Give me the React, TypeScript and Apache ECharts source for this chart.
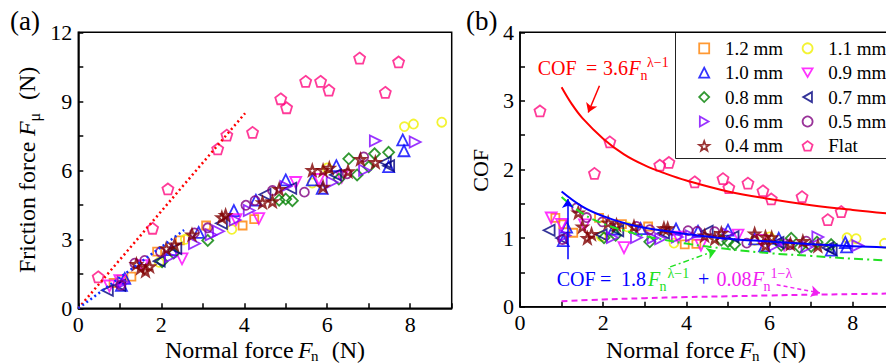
import React, { useEffect, useRef } from 'react';
import * as echarts from 'echarts';

const FONT = 'Liberation Serif';

// ---- Panel (a) data: [normal force Fn (N), friction force Fμ (N)] ----
const d12: number[][] = [[0.85, 1.1], [1.04, 1.25], [1.28, 1.38], [1.9, 2.46], [2.45, 2.95], [3.08, 3.6], [3.96, 3.6], [4.24, 3.88]];
const d11: number[][] = [[1.95, 2.0], [2.58, 3.0], [3.7, 3.43], [5.64, 5.45], [6.0, 6.1], [7.86, 7.9], [8.08, 8.01], [8.76, 8.09]];
const d10: number[][] = [[1.04, 1.0], [1.12, 1.3], [2.25, 2.55], [2.9, 3.3], [3.75, 4.25], [4.28, 4.7], [5.0, 5.58], [5.64, 5.58], [5.88, 5.22], [6.22, 6.2], [7.48, 6.16], [7.82, 7.32], [7.85, 6.85]];
const d09: number[][] = [[0.75, 0.97], [1.0, 1.2], [1.55, 1.85], [2.5, 2.15], [3.8, 3.85], [4.35, 3.9], [5.24, 5.47], [5.8, 5.6], [6.35, 5.7]];
const d08: number[][] = [[2.02, 2.03], [2.3, 2.4], [3.12, 2.95], [4.84, 4.7], [5.0, 4.75], [5.16, 4.68], [6.28, 5.62], [6.52, 6.5], [6.72, 5.8], [7.0, 6.15], [7.14, 6.72], [7.48, 6.78]];
const d07: number[][] = [[0.7, 0.78], [1.0, 1.0], [1.95, 2.05], [2.35, 2.6], [3.45, 3.7], [4.5, 4.95], [5.12, 5.22], [6.2, 5.8], [7.4, 6.35], [7.48, 6.2]];
const d06: number[][] = [[1.08, 1.12], [2.22, 2.24], [2.8, 2.82], [3.2, 3.2], [3.38, 3.35], [3.78, 3.84], [4.12, 4.25], [5.0, 5.3], [6.12, 5.48], [6.9, 6.0], [7.16, 7.28], [8.12, 7.23]];
const d05: number[][] = [[1.02, 1.0], [1.36, 1.96], [1.6, 2.08], [1.98, 2.45], [2.8, 3.28], [3.12, 3.5], [4.04, 4.48], [4.26, 4.68], [4.68, 5.12], [5.45, 5.05], [6.48, 5.85], [6.88, 6.58]];
const d04: number[][] = [[1.4, 1.92], [1.5, 1.75], [1.62, 1.62], [1.72, 1.82], [2.12, 2.6], [2.32, 2.76], [2.74, 3.2], [3.46, 3.95], [3.55, 4.05], [4.44, 4.6], [4.68, 4.64], [4.84, 5.18], [5.64, 6.0], [5.9, 6.0], [5.9, 5.28], [6.05, 6.1], [6.5, 5.95], [6.8, 6.48], [7.16, 6.35]];
const dFlat: number[][] = [[0.48, 1.37], [1.79, 3.48], [2.16, 5.19], [3.36, 6.93], [3.58, 7.53], [4.2, 7.65], [4.88, 9.11], [5.02, 8.72], [5.48, 9.87], [5.84, 9.87], [6.04, 9.49], [6.78, 10.88], [7.4, 9.39], [7.72, 10.71]];

// Dotted guide lines in (a)
const redGuide: number[][] = [[0, 0], [4.02, 8.48]];
const blueGuide: number[][] = [[0, 0], [2.55, 3.4]];

// ---- Panel (b) fitted curves: [Fn, COF] ----
const redFit: number[][] = [[1.0, 3.2], [1.25, 2.95], [1.5, 2.75], [2, 2.45], [2.5, 2.22], [3, 2.06], [3.5, 1.94], [4, 1.84], [5, 1.68], [6, 1.57], [7, 1.48], [8, 1.41], [9, 1.35]];
const greenFit: number[][] = [[1, 1.6], [1.5, 1.36], [2, 1.21], [2.5, 1.11], [3, 1.03], [4, 0.92], [5, 0.84], [6, 0.78], [7, 0.74], [8, 0.7], [9, 0.67]];
const magentaFit: number[][] = [[1, 0.08], [2, 0.105], [3, 0.124], [4, 0.14], [5, 0.152], [6, 0.164], [7, 0.175], [8, 0.184], [9, 0.193]];
const blueFit: number[][] = [[1, 1.68], [1.5, 1.46], [2, 1.32], [2.5, 1.22], [3, 1.15], [4, 1.06], [5, 0.99], [6, 0.95], [7, 0.91], [8, 0.88], [9, 0.86]];

// Annotation arrows in (b): [from, to] in data coordinates
const redArrow: number[][] = [[1.91, 3.22], [1.64, 2.83]];
const blueArrow: number[][] = [[1.15, 0.69], [1.15, 1.57]];
const greenArrow: number[][] = [[3.61, 0.58], [4.71, 0.82]];
const magentaArrow: number[][] = [[6.17, 0.32], [7.21, 0.2]];

const xTicksA = [0, 2, 4, 6, 8];
const legendCol1 = ['1.2 mm', '1.0 mm', '0.8 mm', '0.6 mm', '0.4 mm'];
const legendCol2 = ['1.1 mm', '0.9 mm', '0.7 mm', '0.5 mm', 'Flat'];

const STAR = 'path://M0,-1L0.235,-0.324L0.951,-0.309L0.380,0.124L0.588,0.809L0,0.4L-0.588,0.809L-0.380,0.124L-0.951,-0.309L-0.235,-0.324Z';
const PENT = 'path://M0,-1L0.951,-0.309L0.588,0.809L-0.588,0.809L-0.951,-0.309Z';
const TRI_DOWN = 'path://M-1,-0.87L1,-0.87L0,0.87Z';
const TRI_LEFT = 'path://M-0.87,0L0.87,-1L0.87,1Z';
const TRI_RIGHT = 'path://M0.87,0L-0.87,-1L-0.87,1Z';

const groups = [
  { name: '1.2 mm', data: d12, color: '#FF8000', symbol: 'rect', size: 8, bw: 1.8 },
  { name: '1.1 mm', data: d11, color: '#F0F000', symbol: 'circle', size: 9, bw: 1.8 },
  { name: '1.0 mm', data: d10, color: '#0000FF', symbol: 'triangle', size: 11, bw: 1.8 },
  { name: '0.9 mm', data: d09, color: '#FF00FF', symbol: TRI_DOWN, size: 11, bw: 1.8 },
  { name: '0.8 mm', data: d08, color: '#008000', symbol: 'diamond', size: 11, bw: 1.8 },
  { name: '0.7 mm', data: d07, color: '#000080', symbol: TRI_LEFT, size: 11, bw: 1.8 },
  { name: '0.6 mm', data: d06, color: '#8000FF', symbol: TRI_RIGHT, size: 11, bw: 1.8 },
  { name: '0.5 mm', data: d05, color: '#800080', symbol: 'circle', size: 9, bw: 1.8 },
  { name: '0.4 mm', data: d04, color: '#800000', symbol: STAR, size: 10, bw: 2.2 },
  { name: 'Flat', data: dFlat, color: '#FF0A80', symbol: PENT, size: 11, bw: 1.8 },
];

function txt(text: string, x: number, base: number, size: number, color: string, italic = false) {
  return {
    type: 'text', x, y: base - 0.3375 * size, silent: true,
    style: {
      text, fill: color, fontSize: size, fontFamily: FONT, fontStyle: italic ? 'italic' : 'normal',
      align: 'left', verticalAlign: 'middle', textAlign: 'left', textVerticalAlign: 'middle',
    },
  };
}

function arrowLine(pts: number[][], color: string, type: any) {
  return {
    silent: true, symbol: ['none', 'arrow'], symbolSize: 9, label: { show: false },
    lineStyle: { color, width: 1.5, type },
    emphasis: { disabled: true },
    data: [[{ coord: pts[0] }, { coord: pts[1] }]],
  };
}

export default function App() {
  const ref = useRef<HTMLDivElement>(null);
  useEffect(() => {
    if (!ref.current) return;
    const chart = echarts.init(ref.current, undefined, { renderer: 'svg' });

    const axisCommon = {
      type: 'value',
      axisLine: { show: true, lineStyle: { color: '#000', width: 1.5 } },
      axisTick: { show: true, inside: true, length: 5, lineStyle: { color: '#000', width: 1.5 } },
      splitLine: { show: false },
    };
    const labelCommon = { fontSize: 22, fontFamily: FONT, color: '#000' };

    const scatterSeries: any[] = [];
    groups.forEach((g) => {
      const base = {
        type: 'scatter', name: g.name, symbol: g.symbol, symbolSize: g.size,
        itemStyle: { color: 'rgba(255,255,255,0)', borderColor: g.color, borderWidth: g.bw },
        emphasis: { disabled: true },
      };
      scatterSeries.push({ ...base, xAxisIndex: 0, yAxisIndex: 0, data: g.data });
      // COF = Fμ / Fn of the same measured points
      scatterSeries.push({
        ...base, xAxisIndex: 1, yAxisIndex: 1,
        data: g.data.map(([fn, fu]) => [fn, +(fu / fn).toFixed(3)]),
      });
    });

    const lineBase = { type: 'line', showSymbol: false, symbol: 'none', silent: true, emphasis: { disabled: true } };

    const lineSeries: any[] = [
      { ...lineBase, xAxisIndex: 0, yAxisIndex: 0, data: redGuide, lineStyle: { color: '#FF0000', width: 2.5, type: [2, 3] } },
      { ...lineBase, xAxisIndex: 0, yAxisIndex: 0, data: blueGuide, lineStyle: { color: '#1030FF', width: 2.5, type: [2, 3] } },
      { ...lineBase, xAxisIndex: 1, yAxisIndex: 1, data: redFit, smooth: 0.4, lineStyle: { color: '#FF0000', width: 2 },
        markLine: arrowLine(redArrow, '#FF0000', 'solid') },
      { ...lineBase, xAxisIndex: 1, yAxisIndex: 1, data: greenFit, smooth: 0.4, lineStyle: { color: '#22E022', width: 2, type: [9, 4, 2, 4] },
        markLine: arrowLine(greenArrow, '#22E022', [6, 3, 2, 3]) },
      { ...lineBase, xAxisIndex: 1, yAxisIndex: 1, data: magentaFit, smooth: 0.4, lineStyle: { color: '#F020F0', width: 2, type: [6, 4] },
        markLine: arrowLine(magentaArrow, '#F020F0', [4, 3]) },
      { ...lineBase, xAxisIndex: 1, yAxisIndex: 1, data: blueFit, smooth: 0.4, lineStyle: { color: '#0000FF', width: 2 },
        markLine: arrowLine(blueArrow, '#0000FF', 'solid') },
    ];

    const legendBase = {
      orient: 'vertical', padding: 0, itemGap: 0.4, itemWidth: 10, itemHeight: 10, selectedMode: false,
      textStyle: { fontSize: 19, fontFamily: FONT, color: '#000', lineHeight: 24, padding: [0, 0, 0, 10.7] },
      itemStyle: { borderWidth: 1.8 },
    };

    const graphics: any[] = [
      { type: 'rect', shape: { x: 675.5, y: 32.5, width: 240, height: 126 }, style: { fill: 'none', stroke: '#222', lineWidth: 1 }, silent: true, z: -1 },
      txt('(a)', 10, 30, 27, '#000'),
      txt('(b)', 466, 30, 27, '#000'),
      // x titles
      txt('Normal force', 165, 358, 24, '#000'),
      txt('F', 298, 358, 24, '#000', true),
      txt('n', 311, 361, 15, '#000'),
      txt('(N)', 331.7, 358, 24, '#000'),
      txt('Normal force', 606, 358, 24, '#000'),
      txt('F', 739, 358, 24, '#000', true),
      txt('n', 752, 361, 15, '#000'),
      txt('(N)', 772.7, 358, 24, '#000'),
      // y titles
      {
        type: 'group', x: 35, y: 273, rotation: Math.PI / 2, silent: true,
        children: [
          txt('Friction force', 0, 0, 24, '#000'),
          txt('F', 137, 0, 24, '#000', true),
          txt('μ', 151.5, 5, 16, '#000'),
          txt('(N)', 173, 0, 24, '#000'),
        ],
      },
      {
        type: 'group', x: 488, y: 191.7, rotation: Math.PI / 2, silent: true,
        children: [txt('COF', 0, 0, 22, '#000')],
      },
      // red formula
      txt('COF', 537.7, 75, 20, '#FF0000'),
      txt('=', 586, 75, 20, '#FF0000'),
      txt('3.6', 603, 75, 20, '#FF0000'),
      txt('F', 628.5, 75, 20, '#FF0000', true),
      txt('n', 640.5, 80, 14, '#FF0000'),
      txt('λ−1', 647, 67, 14, '#FF0000'),
      // blue / green / magenta formula
      txt('COF', 556.7, 286, 20, '#0000FF'),
      txt('=', 600, 286, 20, '#0000FF'),
      txt('1.8', 621, 286, 20, '#0000FF'),
      txt('F', 648, 286, 20, '#22E022', true),
      txt('n', 659.5, 291, 14, '#22E022'),
      txt('λ−1', 667.5, 278, 14, '#22E022'),
      txt('+', 698, 286, 20, '#0000FF'),
      txt('0.08', 716.5, 286, 20, '#F020F0'),
      txt('F', 752, 286, 20, '#F020F0', true),
      txt('n', 763.5, 291, 14, '#F020F0'),
      txt('1−λ', 770.5, 278, 14, '#F020F0'),
    ];

    chart.setOption({
      animation: false,
      backgroundColor: '#fff',
      textStyle: { fontFamily: FONT },
      grid: [
        { left: 78.3, top: 32.3, width: 373.4, height: 276, show: true, borderColor: '#000', borderWidth: 1.5, containLabel: false, outerBoundsMode: 'none' },
        { left: 520, top: 32.3, width: 374.4, height: 274.4, show: true, borderColor: '#000', borderWidth: 1.5, containLabel: false, outerBoundsMode: 'none' },
      ],
      xAxis: [
        { ...axisCommon, gridIndex: 0, min: 0, max: 9, interval: 1,
          axisLabel: { ...labelCommon, margin: 8, lineHeight: 16, formatter: (v: number) => (xTicksA.includes(v) ? String(v) : '') } },
        { ...axisCommon, gridIndex: 1, min: 0, max: 9, interval: 1,
          axisLabel: { ...labelCommon, margin: 8, lineHeight: 16, formatter: (v: number) => (xTicksA.includes(v) ? String(v) : '') } },
      ],
      yAxis: [
        { ...axisCommon, gridIndex: 0, min: 0, max: 12, interval: 1.5,
          axisLabel: { ...labelCommon, margin: 6, formatter: (v: number) => (Math.abs(v % 3) < 1e-6 ? String(v) : '') } },
        { ...axisCommon, gridIndex: 1, min: 0, max: 4, interval: 0.5,
          axisLabel: { ...labelCommon, margin: 6, formatter: (v: number) => (Math.abs(v % 1) < 1e-6 ? String(v) : '') } },
      ],
      legend: [
        { ...legendBase, left: 698.3, top: 36.3, data: legendCol1 },
        { ...legendBase, left: 801.7, top: 36.3, data: legendCol2 },
      ],
      graphic: graphics,
      series: [...scatterSeries, ...lineSeries],
    });

    return () => chart.dispose();
  }, []);

  return <div ref={ref} style={{ position: 'fixed', left: 0, top: 0, width: 886, height: 363 }} />;
}
